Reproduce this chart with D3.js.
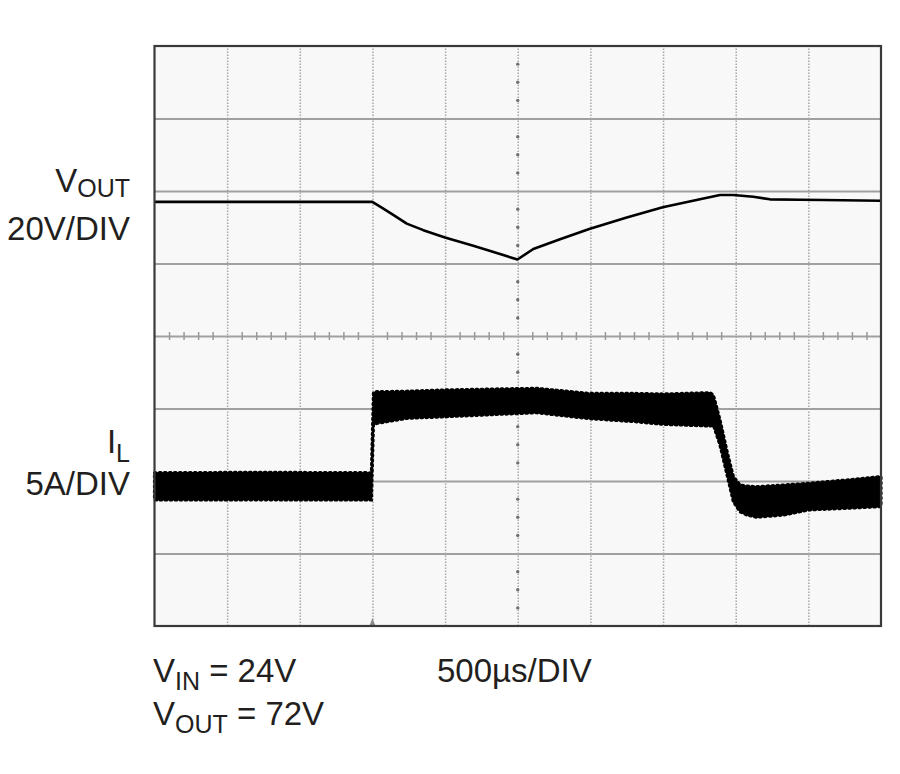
<!DOCTYPE html>
<html>
<head>
<meta charset="utf-8">
<script src="https://cdn.jsdelivr.net/npm/d3@7"></script>
<style>
  html, body { margin: 0; padding: 0; background: #ffffff; }
  svg text { font-family: "Liberation Sans", Arial, Helvetica, sans-serif; fill: #231f20; }
</style>
</head>
<body>
<svg id="chart" width="900" height="774"></svg>
<script>
// ---------------- DATA ----------------
// time axis: 500 µs/DIV, 10 divisions
const timeTicks = [0, 500, 1000, 1500, 2000, 2500, 3000, 3500, 4000, 4500, 5000];
const divTicks = [-4, -3, -2, -1, 0, 1, 2, 3, 4];
const triggerTime = 1500;

// VOUT trace (20V/DIV)
const voutTime = [0, 1499, 1564, 1643, 1736, 1850, 1999, 2194, 2378, 2498, 2607, 2791, 2992, 3250, 3498, 3754, 3892, 3983, 4121, 4236, 4442, 4603, 5000];
const voutVolts = [72.0, 72.0, 70.4, 68.4, 66.0, 64.2, 62.2, 59.9, 57.6, 56.1, 59.0, 61.7, 64.5, 67.7, 70.5, 72.7, 73.9, 73.9, 73.4, 72.7, 72.6, 72.5, 72.3];

// IL trace (5A/DIV): ripple band, upper and lower envelopes
const ilTime = [0, 726, 1493, 1507, 1534, 1736, 1999, 2378, 2630, 2992, 3295, 3498, 3823, 3846, 3892, 3938, 3984, 4030, 4076, 4144, 4328, 4498, 4764, 5000];
const ilHigh = [10.57, 10.6, 10.57, 16.1, 16.16, 16.19, 16.28, 16.35, 16.39, 16.04, 16.04, 16.0, 16.09, 15.93, 14.21, 12.14, 10.3, 9.72, 9.65, 9.61, 9.72, 9.84, 10.07, 10.3];
const ilLow  = [8.69, 8.7, 8.69, 13.9, 13.98, 14.32, 14.43, 14.6, 14.71, 14.3, 14.1, 13.91, 13.79, 13.86, 12.48, 10.53, 8.57, 7.88, 7.66, 7.5, 7.65, 8.0, 8.12, 8.23];

// labels
const vinLabel = { main: "V", sub: "IN", rest: " = 24V" };
const voutLabel = { main: "V", sub: "OUT", rest: " = 72V" };
const timebaseLabel = "500µs/DIV";

// ---------------- LAYOUT ----------------
const L = 154.5, R = 881, T = 46, B = 626;
const svg = d3.select("#chart");

const x = d3.scaleLinear().domain([0, 5000]).range([L, R]);
const yDiv = d3.scaleLinear().domain([-4, 4]).range([B, T]);
const yV = d3.scaleLinear().domain([-45, 115]).range([B, T]);   // 20V/DIV
const yA = d3.scaleLinear().domain([0, 40]).range([B, T]);      // 5A/DIV

// plot background
svg.append("rect").attr("x", L).attr("y", T).attr("width", R - L).attr("height", B - T)
  .attr("fill", "#f8f8f8");

// horizontal gridlines (solid)
const gH = svg.append("g").attr("transform", `translate(${L},0)`)
  .call(d3.axisLeft(yDiv).tickValues(divTicks.slice(1, -1)).tickSize(-(R - L)).tickFormat(""));
gH.select(".domain").remove();
gH.selectAll("line").attr("stroke", "#a0a0a0").attr("stroke-width", 1.8);

// vertical gridlines (dotted)
const gV = svg.append("g").attr("transform", `translate(0,${B})`)
  .call(d3.axisBottom(x).tickValues(timeTicks.slice(1, -1)).tickSize(-(B - T)).tickFormat(""));
gV.select(".domain").remove();
gV.selectAll("line").attr("stroke", "#a8a8a8").attr("stroke-width", 1.5).attr("stroke-dasharray", "1.5,1.5");

// minor ticks on the center horizontal line (5 per division)
const minorT = d3.range(0, 5001, 100).filter(t => t % 500 !== 0);
const gMx = svg.append("g").attr("transform", `translate(0,${yDiv(0)})`)
  .call(d3.axisBottom(x).tickValues(minorT).tickSize(4).tickFormat(""));
gMx.select(".domain").remove();
gMx.selectAll("line").attr("stroke", "#999").attr("stroke-width", 1.5).attr("y1", -4);

// minor dots on the center vertical line (4 per division)
const minorD = d3.range(-4, 4.001, 0.25).filter(d => Math.abs(d - Math.round(d)) > 1e-6);
svg.append("g").selectAll("circle").data(minorD).join("circle")
  .attr("cx", x(2500)).attr("cy", d => yDiv(d)).attr("r", 1.7).attr("fill", "#707070");

// trigger marker
svg.append("path")
  .attr("d", `M${x(triggerTime) - 3},${B} L${x(triggerTime)},${B - 8} L${x(triggerTime) + 3},${B} Z`)
  .attr("fill", "#8a8a8a");

// IL band
const ilData = ilTime.map((t, i) => ({ t, hi: ilHigh[i], lo: ilLow[i] }));
const area = d3.area().x(d => x(d.t)).y0(d => yA(d.lo)).y1(d => yA(d.hi));
svg.append("path").datum(ilData).attr("d", area).attr("fill", "#000")
  .attr("stroke", "#000").attr("stroke-width", 1);
svg.append("path").datum(ilData).attr("d", area).attr("fill", "none")
  .attr("stroke", "#000").attr("stroke-width", 3.2).attr("stroke-linecap", "round")
  .attr("stroke-dasharray", "1.5,3.5");

// VOUT line
const voutData = voutTime.map((t, i) => ({ t, v: voutVolts[i] }));
svg.append("path").datum(voutData)
  .attr("d", d3.line().x(d => x(d.t)).y(d => yV(d.v)))
  .attr("fill", "none").attr("stroke", "#000").attr("stroke-width", 2.6).attr("stroke-linejoin", "round");

// frame
svg.append("rect").attr("x", L).attr("y", T).attr("width", R - L).attr("height", B - T)
  .attr("fill", "none").attr("stroke", "#3a3a3a").attr("stroke-width", 2.2);

// ---------------- TEXT ----------------
const big = 33, small = 25;
function subLabel(xp, yp, main, sub, dy, anchor) {
  const t = svg.append("text").attr("x", xp).attr("y", yp).attr("text-anchor", anchor || "start")
    .style("font-size", big + "px");
  t.append("tspan").text(main);
  t.append("tspan").attr("dy", dy).style("font-size", small + "px").text(sub);
  return t;
}
subLabel(130, 192, "V", "OUT", 5, "end");
svg.append("text").attr("x", 130).attr("y", 240).attr("text-anchor", "end").style("font-size", big + "px").text("20V/DIV");
subLabel(130, 453, "I", "L", 9, "end");
svg.append("text").attr("x", 130).attr("y", 495).attr("text-anchor", "end").style("font-size", big + "px").text("5A/DIV");

function condLabel(xp, yp, lab, dy) {
  const t = svg.append("text").attr("x", xp).attr("y", yp).style("font-size", big + "px");
  t.append("tspan").text(lab.main);
  t.append("tspan").attr("dy", dy).style("font-size", small + "px").text(lab.sub);
  t.append("tspan").attr("dy", -dy).text(lab.rest);
}
condLabel(153, 682, vinLabel, 8);
condLabel(153, 725, voutLabel, 8);
svg.append("text").attr("x", 437).attr("y", 682).style("font-size", big + "px").text(timebaseLabel);
</script>
</body>
</html>
